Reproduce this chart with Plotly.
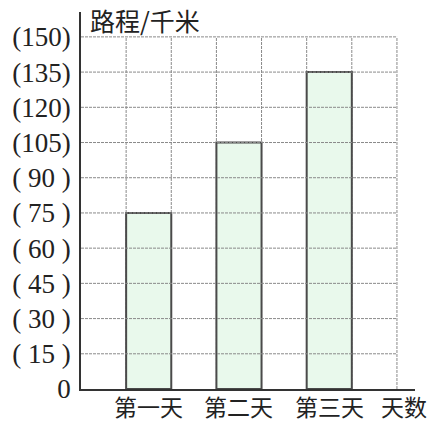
import plotly.graph_objects as go

# Data
days = ["第一天", "第二天", "第三天"]
distance_km = [75, 105, 135]
y_ticks = [0, 15, 30, 45, 60, 75, 90, 105, 120, 135, 150]
y_tick_labels = ["0", "( 15 )", "( 30 )", "( 45 )", "( 60 )", "( 75 )",
                 "( 90 )", "(105)", "(120)", "(135)", "(150)"]
x_axis_name = "天数"
y_axis_name = "路程/千米"

# each day sits in every second grid column
bar_x = [1.5 + 2 * i for i in range(len(days))]
grid_cols = list(range(0, 8))

fig = go.Figure()

fig.add_trace(go.Bar(
    x=bar_x, y=distance_km, width=1,
    marker=dict(color="#e9f9ec", line=dict(color="#4a4a4a", width=2)),
    hoverinfo="skip",
))

# dashed grid (limited to the 7 columns, the axis line runs a bit further)
for v in y_ticks[1:]:
    fig.add_shape(type="line", xref="x", yref="y", x0=0, x1=grid_cols[-1], y0=v, y1=v,
                  line=dict(color="#8a8a8a", width=1, dash="3px,1px"), layer="above")
for c in grid_cols[1:]:
    fig.add_shape(type="line", xref="x", yref="y", x0=c, x1=c, y0=0, y1=y_ticks[-1],
                  line=dict(color="#8a8a8a", width=1, dash="3px,1px"), layer="below")

# category labels under the axis, plus the axis name at the end
for xv, label in zip(bar_x + [7.15], days + [x_axis_name]):
    fig.add_annotation(text=label, xref="x", yref="paper", x=xv, y=-0.046,
                       xanchor="center", yanchor="middle", showarrow=False,
                       font=dict(size=23, color="#222", family="Noto Sans CJK SC"))

fig.add_annotation(text=y_axis_name, xref="paper", yref="paper", x=0.02, y=0.978,
                   xanchor="left", yanchor="middle", showarrow=False,
                   font=dict(size=25, color="#222", family="Noto Sans CJK SC"))

fig.update_layout(
    width=436, height=425,
    margin=dict(l=81, r=21, t=12, b=36),
    plot_bgcolor="white", paper_bgcolor="white",
    showlegend=False,
    xaxis=dict(range=[0, 7.4], showticklabels=False,
               showgrid=False, zeroline=False, showline=True, linecolor="#333", linewidth=1.5,
               ticks="", automargin=False),
    yaxis=dict(range=[0, 160.6], tickvals=y_ticks, ticktext=y_tick_labels,
               showgrid=False, zeroline=False, showline=True, linecolor="#333", linewidth=1.5,
               ticks="", ticklabelstandoff=3, automargin=False,
               tickfont=dict(size=27, color="#222", family="Liberation Serif")),
)

# drop the page's default body margin so the chart sits at the window corner
fig.write_html("out.html", config={"displayModeBar": False},
               post_script="document.body.style.margin='0';")
